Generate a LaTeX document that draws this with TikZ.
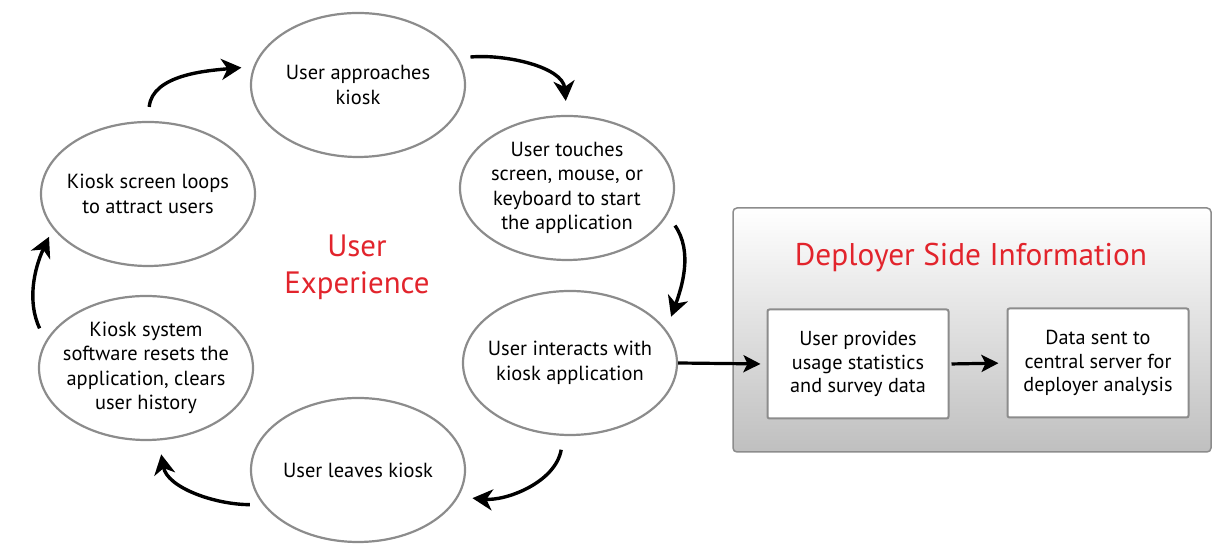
\documentclass[tikz,border=0pt]{standalone}
\usepackage{fontspec}
\setmainfont{PT Sans}
\usetikzlibrary{shapes.geometric,arrows.meta}
\definecolor{kioskred}{RGB}{226,36,44}
\definecolor{rimgray}{RGB}{140,140,140}
\begin{document}
\begin{tikzpicture}[x=1bp, y=1bp,
    stage/.style={ellipse, draw=rimgray, line width=2.2bp, fill=white,
        minimum width=214bp, minimum height=144bp, inner xsep=-30bp, inner ysep=-12bp,
        align=center, font=\fontsize{20.5}{24.5}\selectfont},
    cyc/.style={line width=3.4bp, -{Stealth[length=20bp,width=21bp,inset=6bp]}},
    infobox/.style={draw=rimgray, line width=2bp, fill=white, rounded corners=2bp,
        minimum width=181bp, minimum height=109bp, inner sep=0pt,
        align=center, font=\fontsize{20.3}{24}\selectfont},
    flow/.style={line width=3.2bp, -{Stealth[length=17bp,width=17bp,inset=4bp]}}]
\useasboundingbox (0,0) rectangle (1212,544);
% user experience loop
\node[stage] (e1) at (358,459) {User approaches\\kiosk};
\node[stage] (e2) at (567,356) {User touches\\screen, mouse, or\\keyboard to start\\the application};
\node[stage] (e3) at (570,181) {User interacts with\\kiosk application};
\node[stage] (e4) at (358,74) {User leaves kiosk};
\node[stage] (e5) at (146,176) {Kiosk system\\software resets the\\application, clears\\user history};
\node[stage] (e6) at (148,350) {Kiosk screen loops\\to attract users};
\node[kioskred, align=center, font=\fontsize{31}{37}\selectfont] (ux) at (357,277) {User\\Experience};
\draw[cyc, shorten <=14bp, shorten >=12bp] (e6.north) to[out=85, in=185] (e1.170);
\draw[cyc, shorten <=12bp, shorten >=14bp] (e1.15) to[out=5, in=95] (e2.north);
\draw[cyc, shorten <=13bp, shorten >=14bp] (e2.-15) to[out=-55, in=70] (e3.19);
\draw[cyc, shorten <=14bp, shorten >=14bp] (e3.-95) to[out=-100, in=-5] (e4.-15);
\draw[cyc, shorten <=13bp, shorten >=14bp] (e4.200) to[out=180, in=-80] (e5.-80);
\draw[cyc, shorten <=14bp, shorten >=9bp] (e5.165) to[out=115, in=-115] (e6.200);
% deployer side
\draw[draw=rimgray, line width=1.5bp, rounded corners=4bp, top color=white, bottom color=black!25]
    (733,92) rectangle (1211,336);
\node[kioskred, font=\fontsize{31.5}{36}\selectfont] (title) at (971,286) {Deployer Side Information};
\node[infobox] (stats) at (858,180) {User provides\\usage statistics\\and survey data};
\node[infobox] (server) at (1098,181) {Data sent to\\central server for\\deployer analysis};
\draw[flow, shorten >=6bp] (e3.east) -- (stats.west);
\draw[flow, shorten <=2bp, shorten >=8bp] (stats.east) -- (server.west);
\end{tikzpicture}
\end{document}
